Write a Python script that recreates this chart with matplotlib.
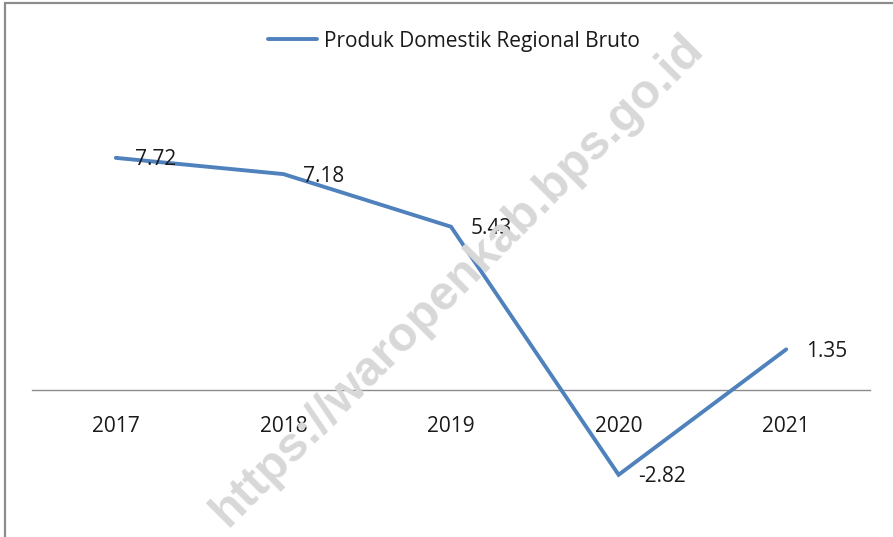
import matplotlib.pyplot as plt
from matplotlib.patches import Rectangle

years = ["2017", "2018", "2019", "2020", "2021"]
pdrb = [7.72, 7.18, 5.43, -2.82, 1.35]
series_name = "Produk Domestik Regional Bruto"

plt.rcParams['font.family'] = ['Open Sans', 'DejaVu Sans']
fs = 15

fig = plt.figure(figsize=(8.93, 5.37), dpi=100)
ax = fig.add_axes([32 / 893, 0.0218, 838 / 893, 0.8119])

x = list(range(len(years)))
ax.plot(x, pdrb, color="#4F81BD", lw=2.8, solid_capstyle='round',
        solid_joinstyle='miter', label=series_name, zorder=3)

for xi, v in zip(x, pdrb):
    ax.annotate(f"{v:.2f}", (xi, v), xytext=(14, -1.5), textcoords='offset points',
                ha='left', va='center', fontsize=fs, color='#1a1a1a', zorder=4)

# zero line as the category axis
for s in ['top', 'right', 'left']:
    ax.spines[s].set_visible(False)
ax.spines['bottom'].set_position(('data', 0))
ax.spines['bottom'].set_color('#8c8c8c')
ax.spines['bottom'].set_linewidth(1)

ax.set_xlim(-0.5, 4.5)
ax.set_ylim(-4.5, 10)
ax.set_xticks(x)
ax.set_xticklabels(years, fontsize=fs, color='#1a1a1a')
ax.tick_params(axis='x', length=0, pad=19)
ax.set_yticks([])
ax.set_facecolor('none')

leg = fig.legend(loc='center', bbox_to_anchor=(454 / 893, 1 - 41 / 537), frameon=False,
                 fontsize=fs, handlelength=2.35, handletextpad=0.35)
for t in leg.get_texts():
    t.set_color('#1a1a1a')

# border of the chart area
fig.patches.append(Rectangle((5 / 893, -0.1), 1.2, 1 - 3 / 537 + 0.1, transform=fig.transFigure,
                             fill=False, edgecolor='#8c8c8c', lw=1.6))

# watermark
fig.text(457 / 893, 1 - 280 / 537, "https://waropenkab.bps.go.id", rotation=45,
         ha='center', va='center', fontsize=35, fontweight='bold',
         family=['Liberation Sans'], color='#d8d8d8', zorder=0)

fig.savefig("out.png", dpi=100)
